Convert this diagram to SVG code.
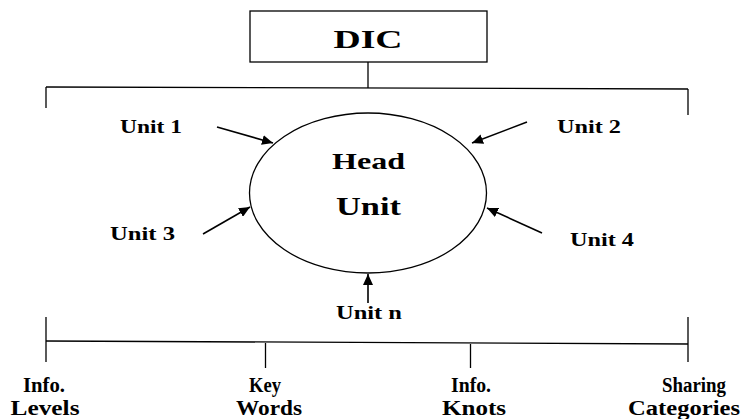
<svg xmlns="http://www.w3.org/2000/svg" width="741" height="419" viewBox="0 0 741 419">
<style>
text{font-family:"Liberation Serif","Times New Roman",serif;font-weight:bold;fill:#000;text-anchor:middle}
.ln{stroke:#000;stroke-width:1.3;fill:none}
.ar{stroke:#000;stroke-width:1.6;fill:none;marker-end:url(#ah)}
.u{font-size:18.5px}
.b{font-size:20px}
</style>
<defs>
<marker id="ah" markerUnits="userSpaceOnUse" markerWidth="12" markerHeight="10" refX="11" refY="5" orient="auto">
<path d="M0,0 L11,5 L0,10 Z" fill="#000"/>
</marker>
</defs>
<rect width="741" height="419" fill="#fff"/>
<g id="connectors">
<line class="ln" x1="368" y1="62" x2="368" y2="88"/>
<line class="ln" x1="46" y1="87" x2="688" y2="89"/>
<line class="ln" x1="46" y1="87" x2="46" y2="108"/>
<line class="ln" x1="688" y1="89" x2="688" y2="115"/>
<line class="ar" x1="217" y1="127" x2="273" y2="143"/>
<line class="ar" x1="527" y1="122" x2="472" y2="143"/>
<line class="ar" x1="203" y1="234" x2="250" y2="207"/>
<line class="ar" x1="542" y1="233" x2="487" y2="208"/>
<line class="ar" x1="368" y1="303" x2="368" y2="274"/>
<line class="ln" x1="46" y1="341" x2="688" y2="344"/>
<line class="ln" x1="46" y1="317" x2="46" y2="362"/>
<line class="ln" x1="688" y1="317" x2="688" y2="362"/>
<line class="ln" x1="265.5" y1="343" x2="265.5" y2="368"/>
<line class="ln" x1="470.5" y1="344" x2="470.5" y2="368"/>
</g>
<g id="dic">
<rect class="ln" x="250" y="11" width="237" height="51"/>
<text x="368" y="48" font-size="25.5" textLength="69" lengthAdjust="spacingAndGlyphs">DIC</text>
</g>
<g id="head-unit">
<ellipse class="ln" cx="368" cy="193" rx="118.5" ry="80"/>
<text x="368.5" y="168.5" font-size="24" textLength="73" lengthAdjust="spacingAndGlyphs">Head</text>
<text x="368.5" y="214.5" font-size="25" textLength="65" lengthAdjust="spacingAndGlyphs">Unit</text>
</g>
<g id="unit1"><text class="u" x="151" y="132.5" textLength="62" lengthAdjust="spacingAndGlyphs">Unit 1</text></g>
<g id="unit2"><text class="u" x="589" y="132.5" textLength="64" lengthAdjust="spacingAndGlyphs">Unit 2</text></g>
<g id="unit3"><text class="u" x="142.5" y="239.5" textLength="65" lengthAdjust="spacingAndGlyphs">Unit 3</text></g>
<g id="unit4"><text class="u" x="602" y="245.5" textLength="64" lengthAdjust="spacingAndGlyphs">Unit 4</text></g>
<g id="unitn"><text class="u" x="369" y="318.5" textLength="66" lengthAdjust="spacingAndGlyphs">Unit n</text></g>
<g id="info-levels">
<text class="b" x="44" y="392" textLength="42" lengthAdjust="spacingAndGlyphs">Info.</text>
<text class="b" x="45" y="414.5" textLength="69" lengthAdjust="spacingAndGlyphs">Levels</text>
</g>
<g id="key-words">
<text class="b" x="265" y="392" textLength="32" lengthAdjust="spacingAndGlyphs">Key</text>
<text class="b" x="269" y="414.5" textLength="66" lengthAdjust="spacingAndGlyphs">Words</text>
</g>
<g id="info-knots">
<text class="b" x="471" y="392" textLength="40" lengthAdjust="spacingAndGlyphs">Info.</text>
<text class="b" x="474" y="414.5" textLength="64" lengthAdjust="spacingAndGlyphs">Knots</text>
</g>
<g id="sharing-categories">
<text class="b" x="694" y="392" textLength="64" lengthAdjust="spacingAndGlyphs">Sharing</text>
<text class="b" x="684" y="414.5" textLength="112" lengthAdjust="spacingAndGlyphs">Categories</text>
</g>
</svg>
